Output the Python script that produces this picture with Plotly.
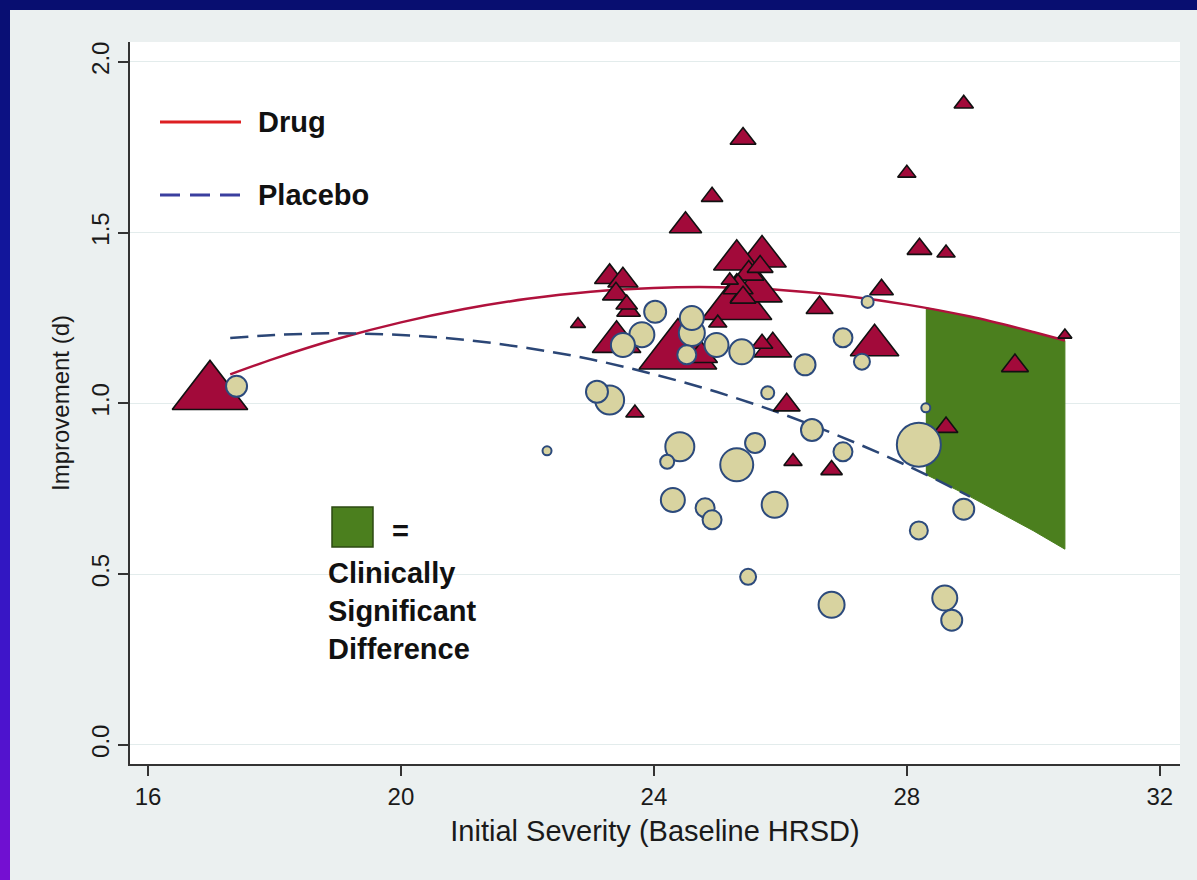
import plotly.graph_objects as go

# ---------------- data ----------------
# Drug studies (triangles): baseline severity, improvement (d), marker width (px, ~study weight)
drug_x = [16.98, 24.38, 25.31, 25.62, 23.41, 27.49, 25.71, 25.31, 25.88, 24.50, 24.75,
          23.30, 23.51, 25.50, 25.33, 26.62, 23.40, 26.10, 29.71, 25.41, 25.68, 25.41,
          28.20, 23.60, 27.60, 28.62, 23.57, 25.71, 26.81, 24.92, 28.90, 23.70, 28.00,
          28.62, 26.20, 25.01, 25.20, 22.80, 30.50]
drug_y = [1.030, 1.150, 1.290, 1.330, 1.180, 1.170, 1.430, 1.420, 1.160, 1.520, 1.140,
          1.370, 1.360, 1.380, 1.340, 1.280, 1.320, 0.995, 1.110, 1.775, 1.400, 1.310,
          1.452, 1.270, 1.333, 0.930, 1.290, 1.175, 0.805, 1.605, 1.877, 0.972, 1.674,
          1.440, 0.830, 1.235, 1.360, 1.232, 1.200]
drug_w = [70, 72, 65, 48, 45, 45, 45, 43, 35, 30, 30,
          28, 28, 28, 28, 25, 25, 25, 25, 24, 24, 24,
          23, 22, 22, 22, 20, 20, 20, 20, 18, 17, 17,
          17, 17, 17, 16, 14, 13]

# Placebo studies (circles)
plac_x = [28.19, 25.31, 23.30, 24.41, 24.60, 25.91, 26.81, 23.81, 25.39, 24.60, 23.51,
          24.99, 24.30, 28.60, 23.10, 24.02, 26.50, 26.39, 28.90, 28.71, 17.40,
          25.60, 24.52, 26.99, 26.99, 24.81, 24.92, 28.19, 27.29, 25.49, 24.21, 25.80,
          27.38, 28.30, 22.31]
plac_y = [0.879, 0.820, 1.010, 0.873, 1.206, 0.703, 0.410, 1.201, 1.151, 1.250, 1.171,
          1.171, 0.717, 0.430, 1.034, 1.268, 0.922, 1.113, 0.690, 0.365, 1.050,
          0.884, 1.142, 1.192, 0.858, 0.694, 0.659, 0.628, 1.122, 0.492, 0.829, 1.031,
          1.297, 0.987, 0.861]
plac_d = [45, 34, 30, 30, 27, 27, 27, 26, 26, 25, 25,
          25, 25, 26, 23, 23, 23, 22, 22, 22, 22,
          21, 20, 20, 20, 20, 20, 19, 17, 17, 15, 14,
          13, 10, 10]

# Fitted curves
drug_fit_x = [17.3, 18, 19, 20, 21, 22, 23, 24, 25, 26, 27, 28, 29, 30, 30.5]
drug_fit_y = [1.085, 1.131, 1.189, 1.237, 1.276, 1.306, 1.327, 1.338, 1.340, 1.332,
              1.315, 1.289, 1.254, 1.209, 1.184]
plac_fit_x = [17.3, 18, 19, 20, 21, 22, 23, 24, 25, 26, 27, 28, 29]
plac_fit_y = [1.191, 1.200, 1.205, 1.200, 1.186, 1.162, 1.129, 1.085, 1.033, 0.971,
              0.899, 0.818, 0.727]

# Clinically significant difference region
csd_x = [28.3, 29, 30, 30.5]
csd_top = [1.280, 1.254, 1.209, 1.184]
csd_bottom = [0.792, 0.727, 0.627, 0.573]

x_ticks = [16, 20, 24, 28, 32]
y_ticks = [0.0, 0.5, 1.0, 1.5, 2.0]

# ---------------- styling ----------------
W, H = 1197, 880
L, R, T, B = 130, 1180, 42, 764  # plot area in pixels
CRIMSON = "#a20a3a"
KHAKI = "#d8d3a0"
GREEN = "#4b7f1e"
FONT = "Liberation Sans, Arial, sans-serif"


def px(x):
    return (x - L) / (R - L)


def py(y):
    return (B - y) / (B - T)


fig = go.Figure()

fig.add_trace(go.Scatter(
    x=csd_x + csd_x[::-1], y=csd_top + csd_bottom[::-1],
    fill="toself", fillcolor=GREEN, mode="lines",
    line=dict(color=GREEN, width=1), hoverinfo="skip", showlegend=False))

fig.add_trace(go.Scatter(
    x=drug_fit_x, y=drug_fit_y, mode="lines", line=dict(color="#b0113c", width=2.5, shape="spline"),
    showlegend=False))
fig.add_trace(go.Scatter(
    x=plac_fit_x, y=plac_fit_y, mode="lines",
    line=dict(color="#2b4676", width=2.5, dash="18px,9px", shape="spline"), showlegend=False))

fig.add_trace(go.Scatter(
    x=drug_x, y=drug_y, mode="markers",
    marker=dict(symbol="triangle-up", size=[w / 1.07 for w in drug_w], color=CRIMSON, opacity=1,
                line=dict(color="#111111", width=1.6)),
    showlegend=False))

fig.add_trace(go.Scatter(
    x=plac_x, y=plac_y, mode="markers",
    marker=dict(symbol="circle", size=[d - 1 for d in plac_d], color=KHAKI, opacity=1,
                line=dict(color="#2c4a7c", width=2)),
    showlegend=False))

shapes = []
# navy / purple frame
shapes.append(dict(type="rect", xref="paper", yref="paper",
                   x0=px(0), x1=px(W), y0=py(10), y1=py(0),
                   fillcolor="#080e70", line=dict(width=0)))
stops = [(0.0, (8, 14, 112)), (0.45, (24, 26, 180)), (0.8, (70, 20, 205)), (1.0, (120, 15, 210))]


def grad(t):
    for (t0, c0), (t1, c1) in zip(stops[:-1], stops[1:]):
        if t <= t1:
            f = (t - t0) / (t1 - t0)
            return "rgb(%d,%d,%d)" % tuple(round(a + (b - a) * f) for a, b in zip(c0, c1))
    return "rgb(%d,%d,%d)" % stops[-1][1]


N = 44
for i in range(N):
    y0 = i * H / N
    y1 = (i + 1) * H / N + 0.5
    shapes.append(dict(type="rect", xref="paper", yref="paper",
                       x0=px(0), x1=px(10), y0=py(y1), y1=py(y0),
                       fillcolor=grad((i + 0.5) / N), line=dict(width=0)))

# legend samples
shapes.append(dict(type="line", xref="paper", yref="paper", x0=px(160), x1=px(241),
                   y0=py(122), y1=py(122), line=dict(color="#dd1f22", width=3)))
shapes.append(dict(type="line", xref="paper", yref="paper", x0=px(160), x1=px(241),
                   y0=py(195), y1=py(195), line=dict(color="#3a3f9f", width=3, dash="20px,10px")))
shapes.append(dict(type="rect", xref="paper", yref="paper", x0=px(332), x1=px(373),
                   y0=py(547), y1=py(507), fillcolor=GREEN, line=dict(color="#2d4a12", width=1.5)))

annos = []


def txt(s, x, y, size=29):
    annos.append(dict(text="<b>%s</b>" % s, xref="paper", yref="paper", x=px(x), y=py(y),
                      xanchor="left", yanchor="middle", showarrow=False,
                      font=dict(family=FONT, size=size, color="#111111")))


txt("Drug", 256, 122)
txt("Placebo", 256, 195)
txt("=", 390, 531)
txt("Clinically", 326, 573)
txt("Significant", 326, 611)
txt("Difference", 326, 649)

fig.update_layout(
    width=W, height=H,
    margin=dict(l=L, r=W - R, t=T, b=H - B, pad=0),
    paper_bgcolor="#ebf0f0", plot_bgcolor="white",
    shapes=shapes, annotations=annos,
    font=dict(family=FONT, color="#1a1a1a"),
    xaxis=dict(range=[15.715, 32.32], tickvals=x_ticks, ticktext=[str(t) for t in x_ticks],
               showgrid=False, zeroline=False, showline=True, linecolor="#333333", linewidth=1.5,
               ticks="outside", ticklen=10, tickcolor="#333333", tickwidth=1.5,
               tickfont=dict(size=24, color="#1a1a1a"),
               title=dict(text="Initial Severity (Baseline HRSD)", font=dict(size=29, color="#1a1a1a"),
                          standoff=12)),
    yaxis=dict(range=[-0.056, 2.058], tickvals=y_ticks, ticktext=["%.1f" % t for t in y_ticks],
               tickangle=-90, showgrid=True, gridcolor="#e3ecec", gridwidth=1, zeroline=False,
               showline=True, linecolor="#333333", linewidth=1.5,
               ticks="outside", ticklen=10, tickcolor="#333333", tickwidth=1.5,
               tickfont=dict(size=24, color="#1a1a1a"),
               title=dict(text="Improvement (d)", font=dict(size=24, color="#1a1a1a"), standoff=10)),
)

fig.write_html("out.html", config={"displayModeBar": False},
               post_script="document.body.style.margin='0';"
                           "document.body.style.background='#ebf0f0';"
                           "document.body.style.overflow='hidden';")
